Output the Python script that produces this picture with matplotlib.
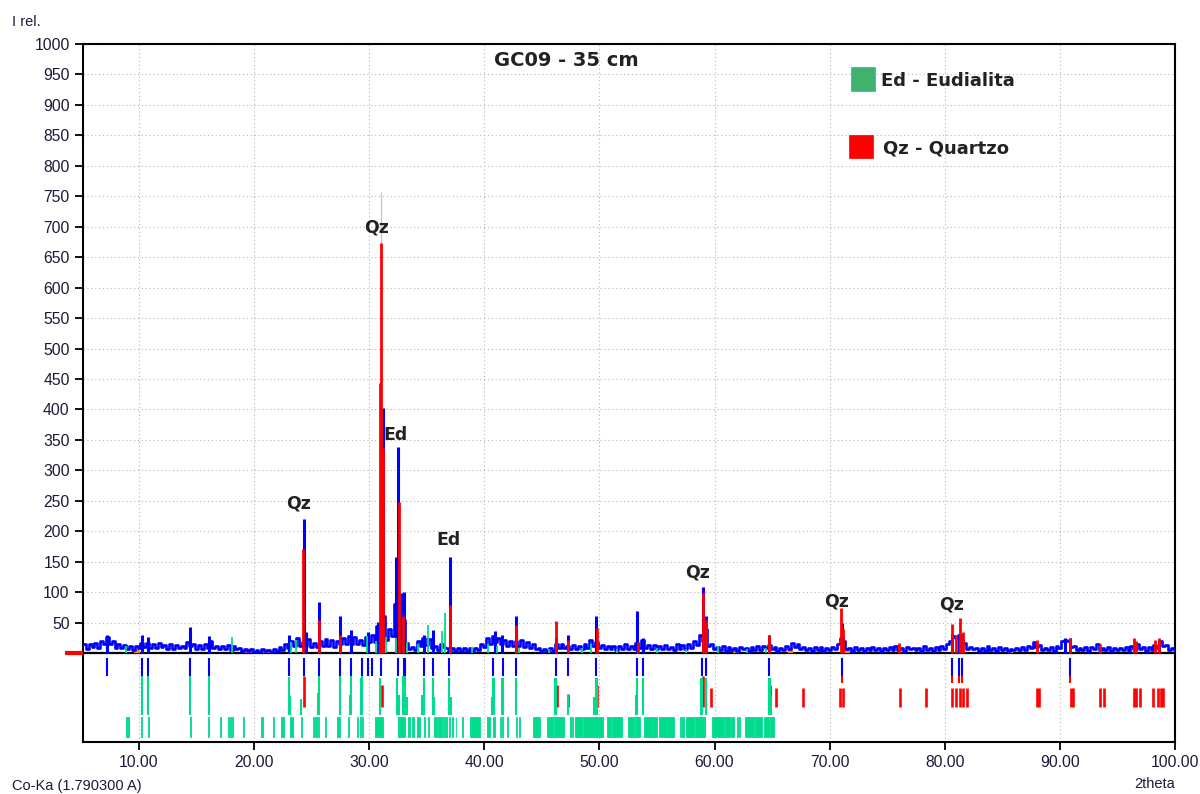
import matplotlib
matplotlib.use("Agg")
import matplotlib.pyplot as plt
from matplotlib.patches import Rectangle
from matplotlib.transforms import blended_transform_factory

# ---------------- measured scan (Co-Ka), regular 2theta grid ----------------
scan_start = 5.25
scan_step = 0.25
counts = [
    14, 7, 15, 10, 16, 9, 20, 14, 27, 15, 19, 9, 15, 8, 13, 6, 11, 5, 12, 8,
    17, 10, 16, 8, 14, 9, 17, 10, 13, 7, 14, 6, 13, 9, 12, 8, 18, 11, 15, 7,
    13, 7, 14, 9, 19, 8, 12, 6, 11, 7, 13, 5, 12, 6, 9, 4, 7, 3, 6, 2,
    5, 2, 6, 3, 5, 2, 6, 3, 10, 5, 14, 8, 19, 12, 24, 11, 18, 12, 23, 10,
    17, 10, 19, 12, 23, 11, 22, 10, 20, 14, 24, 15, 28, 14, 26, 15, 21, 13, 27, 18,
    30, 18, 45, 25, 60, 22, 40, 28, 80, 45, 95, 55, 16, 6, 10, 5, 19, 12, 25, 13,
    23, 9, 12, 5, 14, 10, 9, 4, 8, 3, 9, 4, 8, 3, 9, 4, 8, 5, 15, 10,
    25, 14, 28, 18, 24, 15, 22, 11, 20, 12, 19, 11, 21, 10, 18, 9, 15, 6, 8, 4,
    7, 3, 8, 4, 15, 9, 14, 8, 12, 6, 13, 6, 12, 7, 14, 8, 21, 12, 18, 9,
    13, 7, 12, 6, 11, 5, 12, 6, 14, 7, 12, 6, 16, 9, 22, 8, 13, 7, 13, 6,
    12, 7, 13, 6, 10, 5, 14, 6, 13, 7, 15, 8, 19, 13, 30, 20, 40, 12, 15, 6,
    10, 5, 11, 4, 10, 5, 8, 4, 10, 6, 9, 4, 10, 5, 11, 5, 12, 8, 13, 6,
    10, 4, 9, 5, 11, 6, 16, 10, 15, 6, 10, 5, 8, 4, 10, 5, 10, 4, 9, 5,
    10, 6, 14, 24, 20, 6, 9, 4, 10, 5, 8, 4, 9, 5, 10, 5, 8, 4, 9, 5,
    10, 5, 12, 5, 9, 4, 10, 6, 9, 5, 8, 4, 11, 5, 9, 4, 10, 5, 11, 7,
    15, 20, 28, 25, 30, 22, 16, 6, 10, 7, 9, 4, 8, 4, 11, 5, 9, 4, 10, 5,
    8, 4, 7, 5, 9, 5, 10, 5, 12, 8, 18, 10, 13, 5, 9, 5, 10, 4, 12, 8,
    19, 22, 20, 10, 11, 5, 9, 5, 10, 4, 10, 6, 14, 5, 9, 5, 10, 4, 8, 5,
    9, 5, 10, 4, 11, 7, 15, 6, 10, 4, 10, 5, 13, 9, 20, 12, 13, 5, 9, 5,
]

# observed peak maxima (2theta, I rel.)
peak_pos = [7.22, 10.27, 10.8, 14.47, 16.07, 23.03, 24.3, 24.5, 25.64, 27.48,
            28.42, 29.9, 30.78, 31.22, 32.3, 32.52, 32.72, 33.02, 34.75, 35.52,
            36.98, 40.9, 41.55, 42.75, 46.2, 47.24, 49.72, 53.3, 53.76, 58.97,
            59.25, 64.76, 71.05, 80.65, 81.25, 81.5, 90.45, 90.9, 98.6]
peak_int = [30, 30, 26, 42, 28, 30, 220, 35, 84, 60,
            37, 35, 51, 402, 158, 339, 98, 100, 30, 38,
            158, 36, 30, 60, 27, 30, 60, 69, 25, 108,
            61, 30, 49, 32, 30, 28, 25, 24, 22]

# quartz contribution
qz_pos = [24.28, 25.62, 27.5, 30.97, 31.0, 31.22, 32.6, 32.95, 37.03, 42.78,
          46.22, 47.28, 49.75, 53.35, 59.0, 59.28, 64.7, 71.0, 71.15, 76.0,
          80.62, 80.95, 81.3, 81.55, 88.0, 90.9, 93.5, 96.4, 96.65, 98.3, 98.65]
qz_int = [170, 54, 30, 443, 673, 336, 248, 60, 79, 46,
          53, 22, 41, 18, 98, 55, 30, 74, 40, 16,
          48, 30, 57, 35, 22, 25, 15, 25, 20, 22, 25]

# eudialite contribution
ed_pos = [8.85, 18.1, 23.2, 23.6, 29.85, 30.6, 31.5, 32.35, 33.3, 34.2, 35.1,
          36.35, 36.6, 38.9, 40.3, 41.1, 43.0, 45.6, 48.5, 49.3, 51.5, 55.0,
          57.5, 60.3, 62.8, 64.5]
ed_int = [12, 27, 18, 22, 28, 20, 26, 25, 18, 15, 46,
          36, 65, 10, 14, 12, 8, 7, 8, 14, 7, 8,
          7, 12, 6, 9]

# K-alpha overlay of the main reflection
overlay_pos = [31.03]
overlay_int = [757]

# fitted background segments
bkg_start = [9.55, 19.2, 20.8, 61.6, 66.4, 71.3, 85.45]
bkg_end = [10.05, 19.8, 21.5, 62.1, 66.8, 71.8, 85.9]
bkg_level = [3, 3, 3, 3, 3, 3, 3]

# peak list
plist_pos = [7.22, 10.27, 10.8, 14.47, 16.07, 23.03, 24.33, 25.64, 27.48, 28.43,
             29.36, 29.9, 30.25, 31.05, 32.52, 32.98, 33.12, 34.73, 35.52, 36.96,
             40.78, 41.58, 42.75, 46.2, 47.24, 49.74, 53.3, 53.8, 58.95, 59.23,
             64.76, 71.04, 80.65, 81.23, 81.46, 90.88]
qz_match_pos = [71.04, 80.65, 81.23, 81.46, 90.88]

# quartz reference lines (relative intensity, %)
qzref_pos = [24.33, 31.15, 46.28, 47.24, 49.82, 59.02, 59.66, 64.82, 65.33, 67.65,
             70.92, 71.12, 76.1, 78.37, 80.65, 80.94, 81.29, 81.58, 81.9, 87.98,
             88.2, 90.93, 91.16, 93.5, 93.8, 96.4, 96.62, 96.95, 98.06, 98.5,
             98.78, 99.0]
qzref_rel = [100, 72, 72, 40, 72, 100, 62, 72, 62, 62,
             62, 62, 62, 62, 62, 62, 62, 62, 62, 62,
             62, 62, 62, 62, 62, 62, 62, 62, 62, 62,
             62, 62]

# eudialite reference lines, strongest set (relative intensity, %)
edref_pos = [10.27, 10.8, 14.47, 16.07, 23.03, 23.15, 24.1, 25.58, 25.66, 27.42,
             27.5, 28.3, 28.42, 29.3, 29.37, 30.95, 32.45, 32.55, 32.96, 33.1,
             33.25, 34.6, 34.73, 35.5, 35.62, 36.96, 37.08, 40.65, 40.76, 40.86,
             41.5, 41.6, 42.75, 46.15, 46.22, 47.3, 49.5, 49.66, 49.76, 53.2,
             53.3, 53.81, 58.85, 58.94, 59.23, 64.7, 64.78, 64.88]
edref_rel = [100, 100, 100, 100, 97, 48, 40, 55, 100, 92,
             100, 50, 100, 95, 100, 95, 95, 50, 100, 100,
             45, 50, 95, 95, 45, 95, 45, 45, 95, 95,
             95, 95, 95, 95, 95, 50, 45, 95, 95, 50,
             95, 95, 95, 95, 95, 95, 95, 45]

# eudialite reference, complete line set (2theta ranges of line clusters)
edall_start = [8.85, 10.2, 10.75, 14.4, 16.0, 17.02, 17.72, 17.9, 18.08, 19.05,
               20.63, 21.63, 22.36, 23.1, 24.05, 25.1, 25.32, 25.56, 26.14, 27.22,
               28.16, 28.96, 29.16, 29.38, 30.5, 32.47, 32.8, 33.4, 33.75, 34.18,
               34.76, 35.1, 35.62, 35.95, 36.42, 36.62, 36.92, 37.21, 37.5, 38.08,
               38.76, 39.22, 40.21, 40.79, 41.37, 41.55, 41.95, 42.76, 42.98, 44.21,
               45.42, 46.08, 47.45, 47.65, 47.89, 48.61, 50.64, 51.08, 52.47, 53.08,
               53.83, 55.14, 56.96, 57.2, 57.54, 58.28, 59.77, 60.93, 61.4, 61.95,
               62.14, 62.67, 63.5, 64.27, 64.8]
edall_end = [9.17, 10.3, 10.85, 14.5, 16.1, 17.12, 17.82, 17.98, 18.18, 19.15,
             20.73, 21.73, 22.62, 23.4, 24.15, 25.2, 25.44, 25.68, 26.24, 27.46,
             28.26, 29.06, 29.26, 29.5, 31.22, 32.72, 33.1, 33.5, 33.85, 34.42,
             34.86, 35.2, 35.9, 36.3, 36.52, 36.73, 37.0, 37.29, 37.58, 38.16,
             39.15, 39.63, 40.5, 40.93, 41.45, 41.66, 42.09, 42.86, 43.11, 44.85,
             46.0, 46.93, 47.55, 47.74, 48.47, 50.35, 51.0, 51.95, 53.0, 53.54,
             55.0, 56.44, 57.1, 57.31, 58.2, 59.19, 60.79, 61.3, 61.66, 62.05,
             62.24, 63.4, 64.12, 64.7, 65.19]

x_ticks = [10, 20, 30, 40, 50, 60, 70, 80, 90, 100]
y_ticks = [50, 100, 150, 200, 250, 300, 350, 400, 450, 500,
           550, 600, 650, 700, 750, 800, 850, 900, 950, 1000]

BLUE = "#0000FF"
RED = "#FF0000"
GREEN = "#00DC8C"
ORANGE = "#FF8400"
TXT = "#222222"
TICK_TXT = "#1a1a3a"

plt.rcParams["font.family"] = ["Liberation Sans", "DejaVu Sans"]

fig = plt.figure(figsize=(12, 7.94), dpi=100)
ax = fig.add_axes([83 / 1200, 1 - 742 / 794, 1092 / 1200, 698 / 794])
ax.set_xlim(5.135, 100)
ax.set_ylim(-146.1, 1000)

# grid
ax.set_xticks(x_ticks)
ax.set_xticklabels([f"{t:.2f}" for t in x_ticks])
ax.set_yticks(y_ticks)
ax.set_yticklabels([str(t) for t in y_ticks])
ax.grid(True, linestyle=(0, (1, 2.5)), color="#b4b4b4", linewidth=0.8, zorder=0)
ax.set_axisbelow(True)

# zero line and background
ax.axhline(0, color="black", linewidth=1.6, zorder=2)
ax.hlines(bkg_level, bkg_start, bkg_end, color=ORANGE, linewidth=3, zorder=3)

# measured trace
scan_x = [scan_start + i * scan_step for i in range(len(counts))]
ax.plot(scan_x, counts, color=BLUE, linewidth=1.9, drawstyle="steps-mid", zorder=4)
ax.vlines(peak_pos, 0, peak_int, color=BLUE, linewidth=2.2, zorder=4)

# phase contributions
ax.vlines(overlay_pos, 0, overlay_int, color="#c8c8c8", linewidth=1.0, zorder=5)
ax.vlines(ed_pos, 0, ed_int, color=GREEN, linewidth=1.3, zorder=5)
ax.vlines(qz_pos, 0, qz_int, color=RED, linewidth=2.0, zorder=6)

# reference line rows below the pattern
row_a = (-8, -38)
ax.vlines(plist_pos, row_a[1], row_a[0], color=BLUE, linewidth=1.5, zorder=4)
ax.vlines(qz_match_pos, -49, row_a[1], color=RED, linewidth=1.5, zorder=4)

qz_bottom, qz_span = -88, 50
ax.vlines(qzref_pos, qz_bottom, [qz_bottom + qz_span * r / 100 for r in qzref_rel],
          color=RED, linewidth=1.9, zorder=3)

ed_bottom, ed_span = -101, 63
ax.vlines(edref_pos, ed_bottom, [ed_bottom + ed_span * r / 100 for r in edref_rel],
          color=GREEN, linewidth=1.5, zorder=4)

ax.broken_barh([(s, e - s) for s, e in zip(edall_start, edall_end)], (-137.9, 32.2),
               facecolors=GREEN, edgecolors=GREEN, linewidth=0.6, zorder=3)

# zero marker left of the axis
tr = blended_transform_factory(ax.transAxes, ax.transData)
ax.plot([-0.0165, 0.0], [0, 0], color=RED, linewidth=3, transform=tr,
        clip_on=False, zorder=7, solid_capstyle="butt")

# axes styling
for s in ax.spines.values():
    s.set_linewidth(1.5)
    s.set_color("black")
ax.tick_params(axis="both", direction="out", length=6, width=1.3, color="black",
               labelsize=11.3, labelcolor=TICK_TXT, pad=3.6)

# peak labels
lab_kw = dict(ha="center", va="center", fontfamily="DejaVu Sans",
              fontweight="bold", fontsize=12.5, color=TXT, zorder=8)
ax.text(23.89, 246, "Qz", **lab_kw)
ax.text(30.67, 698, "Qz", **lab_kw)
ax.text(32.32, 358, "Ed", **lab_kw)
ax.text(36.93, 186, "Ed", **lab_kw)
ax.text(58.5, 132, "Qz", **lab_kw)
ax.text(70.57, 84, "Qz", **lab_kw)
ax.text(80.57, 80, "Qz", **lab_kw)

# title and legend
fig.text(566 / 1200, 1 - 61 / 794, "GC09 - 35 cm", ha="center", va="center",
         fontfamily="DejaVu Sans", fontweight="bold", fontsize=14, color=TXT)
fig.patches.append(Rectangle((851 / 1200, 1 - 91 / 794), 24 / 1200, 24 / 794,
                             transform=fig.transFigure, facecolor="#3CB371",
                             edgecolor="#3CB371", linewidth=0.5))
fig.patches.append(Rectangle((849 / 1200, 1 - 158 / 794), 24 / 1200, 23 / 794,
                             transform=fig.transFigure, facecolor=RED,
                             edgecolor=RED, linewidth=0.5))
fig.text(881 / 1200, 1 - 81 / 794, "Ed - Eudialita", ha="left", va="center",
         fontfamily="DejaVu Sans", fontweight="bold", fontsize=13, color=TXT)
fig.text(883 / 1200, 1 - 148 / 794, "Qz - Quartzo", ha="left", va="center",
         fontfamily="DejaVu Sans", fontweight="bold", fontsize=13, color=TXT)

# axis captions
fig.text(12 / 1200, 1 - 22 / 794, "I rel.", ha="left", va="center",
         fontsize=10.5, color=TICK_TXT)
fig.text(12 / 1200, 1 - 786 / 794, "Co-Ka (1.790300 A)", ha="left", va="center",
         fontsize=10.5, color=TICK_TXT)
fig.text(1175 / 1200, 1 - 784 / 794, "2theta", ha="right", va="center",
         fontsize=10.5, color=TICK_TXT)

fig.savefig("out.png", dpi=100)
